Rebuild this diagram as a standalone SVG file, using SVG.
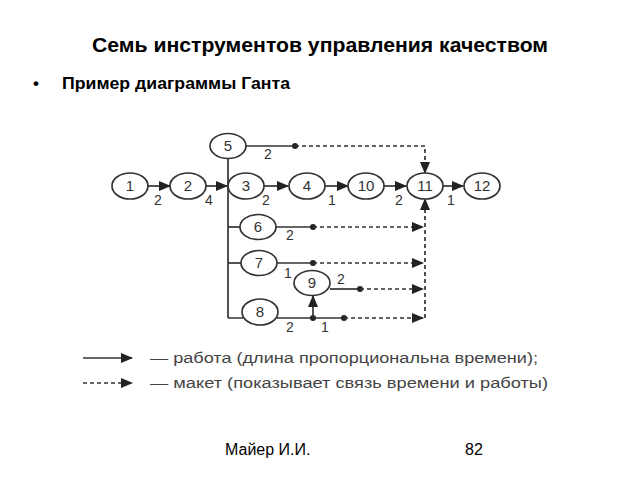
<svg xmlns="http://www.w3.org/2000/svg" width="640" height="480" viewBox="0 0 640 480">
<style>
.n{fill:#fff;stroke:#333;stroke-width:1.7}
.t{font-family:"Liberation Sans",Arial,sans-serif;font-size:15px;fill:#333;text-anchor:middle}
.l{font-family:"Liberation Sans",Arial,sans-serif;font-size:14px;fill:#333;text-anchor:middle}
.s{stroke:#333;stroke-width:1.7;fill:none}
.d{stroke:#333;stroke-width:1.7;fill:none;stroke-dasharray:4 3}
.dot{fill:#222}
.h{font-family:"Liberation Sans",Arial,sans-serif;font-weight:bold;fill:#000}
.f{font-family:"Liberation Sans",Arial,sans-serif;fill:#000}
.g{font-family:"Liberation Sans",Arial,sans-serif;font-size:15.5px;fill:#444}
</style>
<defs>
<marker id="a" markerWidth="12" markerHeight="10" refX="11" refY="5" orient="auto" markerUnits="userSpaceOnUse">
<path d="M0,0 L12,5 L0,10 Z" fill="#222"/>
</marker>
</defs>
<rect width="640" height="480" fill="#fff"/>
<text class="h" x="92" y="52" font-size="20" textLength="456" lengthAdjust="spacingAndGlyphs">Семь инструментов управления качеством</text>
<text class="h" x="33" y="89" font-size="17">•</text>
<text class="h" x="62" y="89" font-size="17" textLength="228" lengthAdjust="spacingAndGlyphs">Пример диаграммы Ганта</text>

<g id="connectors">
<line class="s" x1="148" y1="186" x2="170" y2="186" marker-end="url(#a)"/>
<line class="s" x1="206" y1="186" x2="227" y2="186" marker-end="url(#a)"/>
<line class="s" x1="264" y1="186" x2="288" y2="186" marker-end="url(#a)"/>
<line class="s" x1="325" y1="186" x2="348" y2="186" marker-end="url(#a)"/>
<line class="s" x1="384" y1="186" x2="406" y2="186" marker-end="url(#a)"/>
<line class="s" x1="443" y1="186" x2="463" y2="186" marker-end="url(#a)"/>
<line class="s" x1="228" y1="158" x2="228" y2="318"/>
<line class="s" x1="246" y1="146" x2="295" y2="146"/>
<circle class="dot" cx="295" cy="146" r="3"/>
<polyline class="d" points="295,146 425,146 425,173" marker-end="url(#a)"/>
<line class="s" x1="228" y1="227" x2="240" y2="227"/>
<line class="s" x1="276" y1="227" x2="313" y2="227"/>
<circle class="dot" cx="313" cy="227" r="3"/>
<line class="d" x1="313" y1="227" x2="423" y2="227" marker-end="url(#a)"/>
<line class="s" x1="228" y1="263" x2="241" y2="263"/>
<line class="s" x1="277" y1="263" x2="313" y2="263"/>
<circle class="dot" cx="313" cy="263" r="3"/>
<line class="d" x1="313" y1="263" x2="423" y2="263" marker-end="url(#a)"/>
<line class="s" x1="330" y1="289" x2="360" y2="289"/>
<circle class="dot" cx="360" cy="289" r="3"/>
<line class="d" x1="360" y1="289" x2="423" y2="289" marker-end="url(#a)"/>
<line class="s" x1="228" y1="318" x2="344" y2="318"/>
<circle class="dot" cx="313" cy="318" r="3"/>
<circle class="dot" cx="344" cy="318" r="3"/>
<line class="d" x1="344" y1="318" x2="423" y2="318" marker-end="url(#a)"/>
<line class="s" x1="313" y1="318" x2="313" y2="296" marker-end="url(#a)"/>
<line class="d" x1="425" y1="318" x2="425" y2="199" marker-end="url(#a)"/>
</g>

<g id="n1"><ellipse class="n" cx="130" cy="186" rx="18" ry="13"/><text class="t" x="130" y="191">1</text></g>
<g id="n2"><ellipse class="n" cx="188" cy="186" rx="18" ry="13"/><text class="t" x="188" y="191">2</text></g>
<g id="n3"><ellipse class="n" cx="246" cy="186" rx="18" ry="13"/><text class="t" x="246" y="191">3</text></g>
<g id="n4"><ellipse class="n" cx="307" cy="186" rx="18" ry="13"/><text class="t" x="307" y="191">4</text></g>
<g id="n10"><ellipse class="n" cx="366" cy="186" rx="18" ry="13"/><text class="t" x="366" y="191">10</text></g>
<g id="n11"><ellipse class="n" cx="425" cy="186" rx="18" ry="13"/><text class="t" x="425" y="191">11</text></g>
<g id="n12"><ellipse class="n" cx="482" cy="186" rx="18" ry="13"/><text class="t" x="482" y="191">12</text></g>
<g id="n5"><ellipse class="n" cx="228" cy="146" rx="18" ry="12.5"/><text class="t" x="228" y="151">5</text></g>
<g id="n6"><ellipse class="n" cx="258" cy="227" rx="18" ry="12.5"/><text class="t" x="258" y="232">6</text></g>
<g id="n7"><ellipse class="n" cx="259" cy="263" rx="18" ry="12.5"/><text class="t" x="259" y="268">7</text></g>
<g id="n9"><ellipse class="n" cx="312" cy="283" rx="18" ry="12.5"/><text class="t" x="312" y="288">9</text></g>
<g id="n8"><ellipse class="n" cx="260" cy="312" rx="18" ry="13"/><text class="t" x="260" y="317">8</text></g>

<g id="labels">
<text class="l" x="158" y="205">2</text>
<text class="l" x="209" y="205">4</text>
<text class="l" x="266" y="205">2</text>
<text class="l" x="332" y="205">1</text>
<text class="l" x="399" y="205">2</text>
<text class="l" x="451" y="205">1</text>
<text class="l" x="268" y="159">2</text>
<text class="l" x="290" y="240">2</text>
<text class="l" x="288" y="278">1</text>
<text class="l" x="341" y="284">2</text>
<text class="l" x="290" y="332">2</text>
<text class="l" x="325" y="332">1</text>
</g>

<g id="legend">
<line class="s" x1="83" y1="358" x2="132" y2="358" marker-end="url(#a)"/>
<text class="g" x="150" y="363" textLength="388" lengthAdjust="spacingAndGlyphs">— работа (длина пропорциональна времени);</text>
<line class="d" x1="83" y1="383" x2="132" y2="383" marker-end="url(#a)"/>
<text class="g" x="150" y="388" textLength="398" lengthAdjust="spacingAndGlyphs">— макет (показывает связь времени и работы)</text>
</g>

<text class="f" x="225" y="455" font-size="16">Майер И.И.</text>
<text class="f" x="465" y="455" font-size="16">82</text>
</svg>
